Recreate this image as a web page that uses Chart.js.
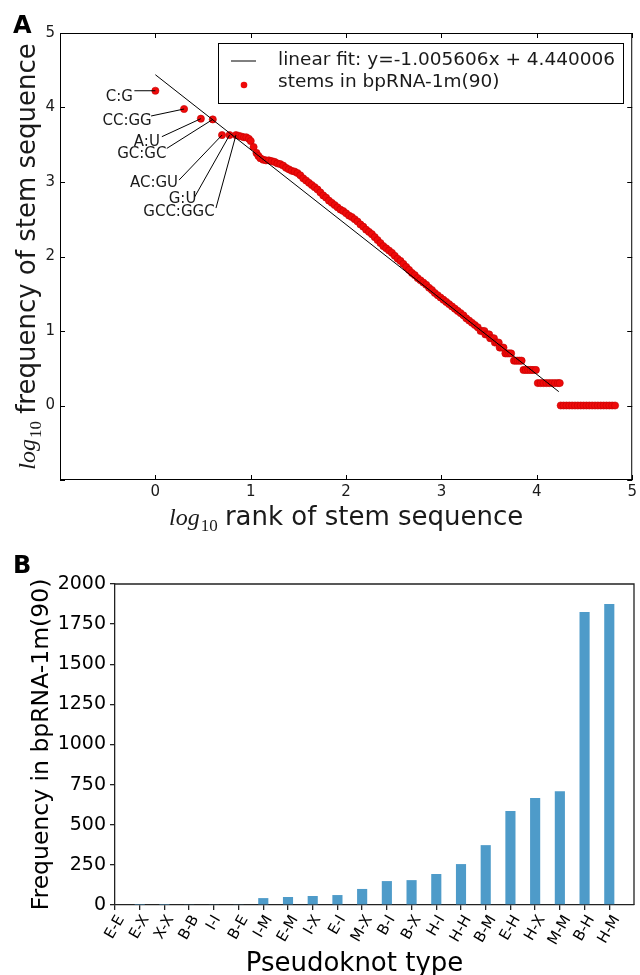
<!DOCTYPE html>
<html>
<head>
<meta charset="utf-8">
<script src="https://cdn.jsdelivr.net/npm/chart.js@4.4.1/dist/chart.umd.min.js"></script>
<style>
    html, body { margin: 0; padding: 0; background: #fff; }
    #chartA { position: absolute; left: 0; top: 0; }
    #chartB { position: absolute; left: 0; top: 540px; }
</style>
</head>
<body>
<canvas id="chartA" width="640" height="540"></canvas>
<canvas id="chartB" width="640" height="435"></canvas>
<script>
// ---- panel A: rank / frequency of stem sequences (log10) ----
const stemRankLog = [
    0, 0.301, 0.477, 0.602, 0.699, 0.778, 0.845, 0.875, 0.903, 0.93,
    0.954, 0.98, 1.0, 1.03, 1.06, 1.08, 1.10, 1.13, 1.16, 1.19,
    1.22, 1.25, 1.28, 1.31, 1.34, 1.37, 1.40, 1.43, 1.46, 1.49,
    1.52, 1.55, 1.58, 1.61, 1.64, 1.67, 1.70, 1.73, 1.76, 1.79,
    1.82, 1.85, 1.88, 1.91, 1.94, 1.97, 2.00, 2.03, 2.06, 2.09,
    2.12, 2.15, 2.18, 2.21, 2.24, 2.27, 2.30, 2.33, 2.36, 2.39,
    2.42, 2.45, 2.48, 2.51, 2.54, 2.57, 2.60, 2.63, 2.66, 2.69,
    2.72, 2.75, 2.78, 2.81, 2.84, 2.87, 2.90, 2.93, 2.96, 2.99,
    3.02, 3.05, 3.08, 3.11, 3.14, 3.17, 3.20, 3.23, 3.26, 3.29,
    3.32, 3.35, 3.38, 3.41, 3.43, 3.45, 3.46, 3.48, 3.50, 3.51,
    3.53, 3.55, 3.56, 3.58, 3.60, 3.61, 3.63, 3.65, 3.67, 3.69,
    3.71, 3.73, 3.76, 3.78, 3.80, 3.82, 3.84, 3.86, 3.885, 3.91,
    3.935, 3.96, 3.99, 4.01, 4.04, 4.07, 4.10, 4.13, 4.16, 4.19,
    4.22, 4.24, 4.25, 4.28, 4.31, 4.34, 4.37, 4.40, 4.43, 4.46,
    4.49, 4.52, 4.55, 4.58, 4.61, 4.64, 4.67, 4.70, 4.73, 4.76,
    4.79, 4.82
];
const stemFreqLog = [
    4.225, 3.98, 3.85, 3.84, 3.63, 3.63, 3.63, 3.62, 3.61, 3.60,
    3.60, 3.58, 3.55, 3.47, 3.39, 3.35, 3.32, 3.30, 3.29, 3.29,
    3.28, 3.27, 3.25, 3.24, 3.22, 3.19, 3.17, 3.15, 3.14, 3.12,
    3.09, 3.05, 3.02, 2.99, 2.96, 2.93, 2.90, 2.86, 2.82, 2.79,
    2.75, 2.72, 2.69, 2.66, 2.63, 2.61, 2.58, 2.55, 2.53, 2.50,
    2.47, 2.43, 2.40, 2.36, 2.33, 2.30, 2.26, 2.22, 2.18, 2.14,
    2.11, 2.08, 2.05, 2.01, 1.97, 1.94, 1.90, 1.86, 1.82, 1.78,
    1.75, 1.71, 1.68, 1.65, 1.62, 1.58, 1.55, 1.51, 1.48, 1.45,
    1.42, 1.39, 1.36, 1.33, 1.30, 1.27, 1.24, 1.21, 1.17, 1.14,
    1.11, 1.08, 1.05, 1.0, 1.0, 1.0, 0.954, 0.954, 0.954, 0.903,
    0.903, 0.903, 0.845, 0.845, 0.845, 0.778, 0.778, 0.778, 0.699, 0.699,
    0.699, 0.699, 0.602, 0.602, 0.602, 0.602, 0.602, 0.477, 0.477, 0.477,
    0.477, 0.477, 0.477, 0.301, 0.301, 0.301, 0.301, 0.301, 0.301, 0.301,
    0.301, 0.301, 0, 0, 0, 0, 0, 0, 0, 0,
    0, 0, 0, 0, 0, 0, 0, 0, 0, 0,
    0, 0
];
// the first seven stems are labelled in the figure
const stemNames = ["C:G", "CC:GG", "A:U", "GC:GC", "AC:GU", "G:U", "GCC:GGC"];
const fitRankLog = [0, 4.23];
const fitFreqLog = [4.440, 0.186];
const fitLabel = "linear fit: y=-1.005606x + 4.440006";
const stemLabel = "stems in bpRNA-1m(90)";

// ---- panel B: pseudoknot types ----
const pkTypes = ["E-E", "E-X", "X-X", "B-B", "I-I", "B-E", "I-M", "E-M", "I-X", "E-I", "M-X",
    "B-I", "B-X", "H-I", "H-H", "B-M", "E-H", "H-X", "M-M", "B-H", "H-M"];
const pkCounts = [0, 1, 1, 5, 5, 5, 43, 50, 56, 62, 100,
    149, 155, 193, 255, 373, 585, 666, 709, 1825, 1875];

// label placement (pixel offsets from the labelled point): text centre, leader start
const labelOffsets = [
    { tx: -36, ty: 6, lx: -21, ly: 0 },
    { tx: -57, ty: 12, lx: -33, ly: 7 },
    { tx: -54, ty: 23, lx: -39, ly: 18 },
    { tx: -71, ty: 35, lx: -46, ly: 29 },
    { tx: -68, ty: 48, lx: -43, ly: 45 },
    { tx: -47, ty: 64, lx: -35, ly: 62 },
    { tx: -57, ty: 77, lx: -20, ly: 73 }
];

const SANS = "'DejaVu Sans', 'Noto Sans', sans-serif";
const INK = "#1a1a1a";

function _panelLetter(letter) {
    return {
        id: "panel" + letter,
        afterDraw(chart) {
            const ctx = chart.ctx;
            ctx.save();
            ctx.font = "bold 24px " + SANS;
            ctx.fillStyle = "#000";
            ctx.textAlign = "left";
            ctx.textBaseline = "alphabetic";
            ctx.fillText(letter, 13, 33);
            ctx.restore();
        }
    };
}

// "log10 <rest>" with mathtext-like log and subscript, centred on x=0, baseline y=0
function _drawLogTitle(ctx, rest) {
    const fLog = "italic 24px 'Liberation Serif', 'DejaVu Serif', serif";
    const fSub = "17px 'Liberation Serif', 'DejaVu Serif', serif";
    const fRest = "26px " + SANS;
    ctx.font = fLog;
    const w1 = ctx.measureText("log").width;
    ctx.font = fSub;
    const w2 = ctx.measureText("10").width;
    ctx.font = fRest;
    const w3 = ctx.measureText(" " + rest).width;
    let x = -(w1 + w2 + w3) / 2;
    ctx.textAlign = "left";
    ctx.textBaseline = "alphabetic";
    ctx.font = fLog;
    ctx.fillText("log", x, 0);
    x += w1 + 1;
    ctx.font = fSub;
    ctx.fillText("10", x, 6);
    x += w2 - 1;
    ctx.font = fRest;
    ctx.fillText(" " + rest, x, 0);
}

const decorA = {
    id: "decorA",
    afterDatasetsDraw(chart) {
        const { ctx, chartArea: a, scales } = chart;
        const meta = chart.getDatasetMeta(1);
        ctx.save();
        // leader lines and stem labels
        ctx.strokeStyle = "#000";
        ctx.lineWidth = 1;
        ctx.fillStyle = INK;
        ctx.font = "15px " + SANS;
        ctx.textAlign = "center";
        ctx.textBaseline = "middle";
        stemNames.forEach((name, i) => {
            const pt = meta.data[i];
            const o = labelOffsets[i];
            ctx.beginPath();
            ctx.moveTo(pt.x + o.lx, pt.y + o.ly);
            ctx.lineTo(pt.x, pt.y);
            ctx.stroke();
            ctx.fillText(name, pt.x + o.tx, pt.y + o.ty);
        });

        // frame with inward ticks on all sides
        ctx.strokeStyle = "#000";
        ctx.lineWidth = 1;
        ctx.strokeRect(a.left + 0.5, a.top + 0.5, a.right - a.left - 1, a.bottom - a.top - 1);
        ctx.beginPath();
        scales.x.ticks.forEach(t => {
            const px = Math.round(scales.x.getPixelForValue(t.value)) + 0.5;
            ctx.moveTo(px, a.bottom);
            ctx.lineTo(px, a.bottom - 5);
            ctx.moveTo(px, a.top);
            ctx.lineTo(px, a.top + 5);
        });
        scales.y.ticks.forEach(t => {
            const py = Math.round(scales.y.getPixelForValue(t.value)) + 0.5;
            ctx.moveTo(a.left, py);
            ctx.lineTo(a.left + 5, py);
            ctx.moveTo(a.right, py);
            ctx.lineTo(a.right - 5, py);
        });
        ctx.stroke();

        // legend box
        const line = chart.data.datasets[0];
        const dots = chart.data.datasets[1];
        ctx.font = "18.5px " + SANS;
        const tw = Math.max(ctx.measureText(line.label).width, ctx.measureText(dots.label).width);
        const w = Math.round(60 + tw + 8);
        const h = 60;
        const x0 = Math.round(a.right - 9 - w);
        const y0 = Math.round(a.top + 10);
        ctx.fillStyle = "#fff";
        ctx.fillRect(x0, y0, w, h);
        ctx.strokeStyle = "#000";
        ctx.strokeRect(x0 + 0.5, y0 + 0.5, w, h);
        ctx.strokeStyle = line.borderColor;
        ctx.lineWidth = line.borderWidth;
        ctx.beginPath();
        ctx.moveTo(x0 + 13, y0 + 18);
        ctx.lineTo(x0 + 38, y0 + 18);
        ctx.stroke();
        ctx.fillStyle = dots.backgroundColor;
        ctx.beginPath();
        ctx.arc(x0 + 26, y0 + 42, 3.3, 0, Math.PI * 2);
        ctx.fill();
        ctx.fillStyle = INK;
        ctx.textAlign = "left";
        ctx.textBaseline = "middle";
        ctx.fillText(line.label, x0 + 60, y0 + 17);
        ctx.fillText(dots.label, x0 + 60, y0 + 39);
        ctx.restore();
    },
    afterDraw(chart) {
        const { ctx, chartArea: a } = chart;
        ctx.save();
        ctx.fillStyle = INK;
        ctx.translate((a.left + a.right) / 2, 525);
        _drawLogTitle(ctx, "rank of stem sequence");
        ctx.restore();
        ctx.save();
        ctx.fillStyle = INK;
        ctx.translate(35, (a.top + a.bottom) / 2);
        ctx.rotate(-Math.PI / 2);
        _drawLogTitle(ctx, "frequency of stem sequence");
        ctx.restore();
    }
};

const decorB = {
    id: "decorB",
    afterDraw(chart) {
        const { ctx, chartArea: a, scales } = chart;
        ctx.save();
        ctx.strokeStyle = "#222";
        ctx.lineWidth = 1.3;
        ctx.beginPath();
        ctx.moveTo(a.left, a.top);
        ctx.lineTo(a.right, a.top);
        ctx.lineTo(a.right, a.bottom);
        ctx.stroke();

        // category labels, rotated 60 degrees and centred under their ticks
        const rot = Math.PI / 3;
        ctx.fillStyle = "#000";
        ctx.font = "15px " + SANS;
        ctx.textAlign = "center";
        ctx.textBaseline = "middle";
        pkTypes.forEach((name, i) => {
            const px = scales.x.getPixelForValue(i);
            const w = ctx.measureText(name).width;
            const hb = w * Math.sin(rot) + 11 * Math.cos(rot);
            ctx.save();
            ctx.translate(px, a.bottom + 9 + hb / 2);
            ctx.rotate(-rot);
            ctx.fillText(name, 0, 0);
            ctx.restore();
        });

        ctx.textBaseline = "alphabetic";
        ctx.font = "26px " + SANS;
        ctx.fillText("Pseudoknot type", (a.left + a.right) / 2 - 20, 431);
        ctx.font = "23.5px " + SANS;
        ctx.translate(48, (a.top + a.bottom) / 2);
        ctx.rotate(-Math.PI / 2);
        ctx.fillText("Frequency in bpRNA-1m(90)", 0, 0);
        ctx.restore();
    }
};

new Chart(document.getElementById("chartA"), {
    type: "scatter",
    data: {
        datasets: [
            {
                label: fitLabel,
                data: fitRankLog.map((x, i) => ({ x: x, y: fitFreqLog[i] })),
                showLine: true,
                borderColor: "#000",
                borderWidth: 1,
                pointRadius: 0
            },
            {
                label: stemLabel,
                data: stemRankLog.map((x, i) => ({ x: x, y: stemFreqLog[i] })),
                backgroundColor: "#ee0a0a",
                borderColor: "#c40000",
                borderWidth: 0.6,
                pointRadius: 3.6
            }
        ]
    },
    options: {
        responsive: false,
        animation: false,
        events: [],
        layout: { padding: { left: 0, right: 4, top: 33, bottom: 0 } },
        plugins: { legend: { display: false }, tooltip: { enabled: false } },
        scales: {
            x: {
                type: "linear", min: -1, max: 5,
                grid: { display: false, drawTicks: false },
                border: { display: false },
                ticks: {
                    stepSize: 1, padding: 3, color: INK, maxRotation: 0,
                    font: { family: SANS, size: 15 },
                    callback: v => (v < 0 ? "" : String(v))
                },
                afterFit: scale => { scale.height = 60; }
            },
            y: {
                type: "linear", min: -1, max: 5,
                grid: { display: false, drawTicks: false },
                border: { display: false },
                ticks: {
                    stepSize: 1, padding: 5, color: INK,
                    font: { family: SANS, size: 15 },
                    callback: v => (v < 0 ? "" : String(v))
                },
                afterFit: scale => { scale.width = 60; }
            }
        }
    },
    plugins: [decorA, _panelLetter("A")]
});

new Chart(document.getElementById("chartB"), {
    type: "bar",
    data: {
        datasets: [{
            data: pkCounts.map((v, i) => ({ x: i, y: v })),
            backgroundColor: "#4e9bc9",
            barPercentage: 0.41,
            categoryPercentage: 1
        }]
    },
    options: {
        responsive: false,
        animation: false,
        events: [],
        layout: { padding: { left: 0, right: 6, top: 44, bottom: 0 } },
        plugins: { legend: { display: false }, tooltip: { enabled: false } },
        scales: {
            x: {
                type: "linear", min: 0, max: 21,
                offset: false,
                grid: { drawOnChartArea: false, drawTicks: true, tickLength: 5, color: "#222", lineWidth: 1.3, offset: false },
                border: { display: true, color: "#222", width: 1.3 },
                afterBuildTicks: scale => { scale.ticks = pkTypes.map((t, i) => ({ value: i })); },
                ticks: { display: false, autoSkip: false },
                afterFit: scale => { scale.height = 70; }
            },
            y: {
                min: 0, max: 2000,
                grid: { drawOnChartArea: false, drawTicks: true, tickLength: 5, color: "#222", lineWidth: 1.3 },
                border: { display: true, color: "#222", width: 1.3 },
                ticks: {
                    stepSize: 250, padding: 4, color: "#000",
                    font: { family: SANS, size: 19 },
                    callback: v => String(v)
                },
                afterFit: scale => { scale.width = 115; }
            }
        }
    },
    plugins: [decorB, _panelLetter("B")]
});
</script>
</body>
</html>
